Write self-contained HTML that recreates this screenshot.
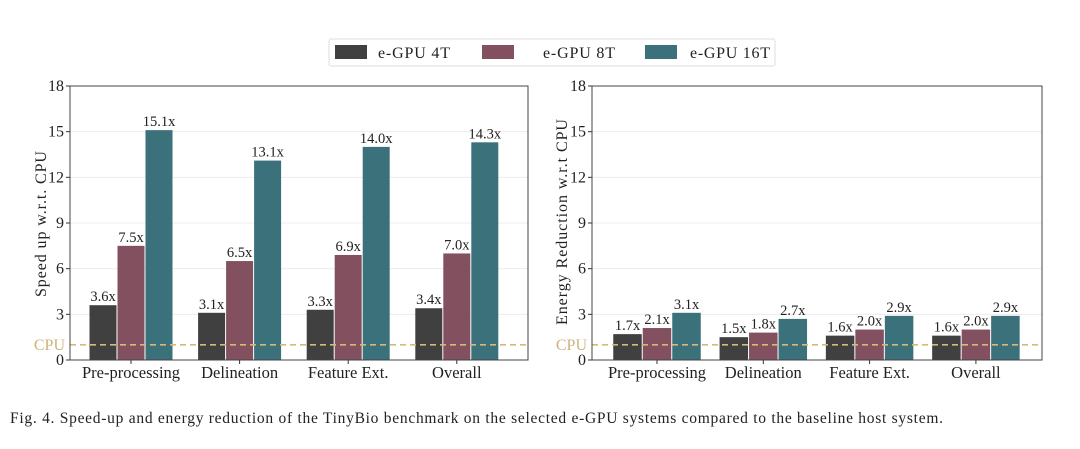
<!DOCTYPE html>
<html><head><meta charset="utf-8"><style>
body{margin:0;background:#fff;width:1080px;height:444px;overflow:hidden;font-family:"Liberation Serif",serif}
svg text{font-family:"Liberation Serif",serif;fill:#222}
</style></head><body>
<svg id="c" width="1080" height="444">
<g>
<rect x="329" y="39" width="446" height="27" fill="#fff" stroke="#ddd" rx="2"/>
<rect x="335" y="45" width="32" height="14" fill="#404040"/>
<text x="378" y="58" font-size="16" textLength="72">e-GPU 4T</text>
<rect x="482" y="45" width="32" height="14" fill="#83505f"/>
<text x="543" y="58" font-size="16" textLength="72">e-GPU 8T</text>
<rect x="645" y="45" width="32" height="14" fill="#3b717a"/>
<text x="690" y="58" font-size="16" textLength="80">e-GPU 16T</text>
</g>
<text x="10" y="423" font-size="15.5" textLength="933">Fig. 4.  Speed-up and energy reduction of the TinyBio benchmark on the selected e-GPU systems compared to the baseline host system.</text>
</svg>
<script>
const categories=["Pre-processing","Delineation","Feature Ext.","Overall"];
const seriesNames=["e-GPU 4T","e-GPU 8T","e-GPU 16T"];
const speed4T=[3.6,3.1,3.3,3.4];
const speed8T=[7.5,6.5,6.9,7.0];
const speed16T=[15.1,13.1,14.0,14.3];
const energy4T=[1.7,1.5,1.6,1.6];
const energy8T=[2.1,1.8,2.0,2.0];
const energy16T=[3.1,2.7,2.9,2.9];
const yTicks=[0,3,6,9,12,15,18];
const cpuBaseline=1;
const colors=["#404040","#83505f","#3b717a"];
const NS="http://www.w3.org/2000/svg";
const svg=document.getElementById('c');
function mk(tag,attrs,parent){const e=document.createElementNS(NS,tag);for(const k in attrs)e.setAttribute(k,attrs[k]);(parent||svg).appendChild(e);return e;}
function panel(cfg){
  const g=mk('g',{});
  
  
  const y=v=>cfg.bottom-(v/18)*(cfg.bottom-cfg.top);
  const xc=i=>cfg.c0+i*cfg.step;
  yTicks.forEach(t=>{
    if(t>0&&t<18){const gl=mk('line',{x1:cfg.left,x2:cfg.right,y1:y(t),y2:y(t),stroke:'#ececec','stroke-width':1},g);
    }
    mk('line',{x1:cfg.left-4,x2:cfg.left,y1:y(t),y2:y(t),stroke:'#333'},g);
    const tx=mk('text',{x:cfg.left-6,y:y(t)+5,'font-size':16,'text-anchor':'end'},g);tx.textContent=t;
    
    
  });
  cfg.series.forEach((arr,s)=>{
    arr.forEach((v,i)=>{
      const cx=xc(i)+(s-1)*cfg.bw;
      const r=mk('rect',{x:cx-cfg.bw/2+0.5,y:y(v),width:cfg.bw-1,height:y(0)-y(v),fill:colors[s]},g);
      
      
      const t=mk('text',{x:cx,y:y(v)-4,'font-size':14.5,'text-anchor':'middle'},g);t.textContent=v.toFixed(1)+'x';
      
      
    });
  });
  const cl=mk('line',{x1:cfg.left,x2:cfg.right,y1:y(cpuBaseline),y2:y(cpuBaseline),stroke:'#d6b97a','stroke-width':1.6,'stroke-dasharray':'6,4'},g);
  
  
  const ct=mk('text',{x:cfg.left-5,y:y(cpuBaseline)+5,'font-size':16,'text-anchor':'end',style:'fill:#cdb27a'},g);ct.textContent='CPU';
  
  
  categories.forEach((c,i)=>{
    mk('line',{x1:xc(i),x2:xc(i),y1:cfg.bottom,y2:cfg.bottom+4,stroke:'#333'},g);
    const t=mk('text',{x:xc(i),y:cfg.bottom+18,'font-size':16.5,'text-anchor':'middle'},g);t.textContent=c;
    
    
  });
  const f=mk('rect',{x:cfg.left,y:cfg.top,width:cfg.right-cfg.left,height:cfg.bottom-cfg.top,fill:'none',stroke:'#444','stroke-width':1},g);
  
  
  const yl=mk('text',{x:0,y:0,'font-size':16,'text-anchor':'middle',textLength:cfg.ylen,transform:`translate(${cfg.ylx},${cfg.ylc}) rotate(-90)`},g);yl.textContent=cfg.ylabel;
  
  
}
panel({name:'speedup-chart',left:70,right:528,top:86,bottom:360,c0:131,step:108.6,bw:28,ylabel:'Speed up w.r.t. CPU',ylx:46,ylc:224,ylen:146,series:[speed4T,speed8T,speed16T]});
panel({name:'energy-chart',left:592,right:1042,top:86,bottom:360,c0:657,step:106.3,bw:29.5,ylabel:'Energy Reduction w.r.t CPU',ylx:567,ylc:222,ylen:206,series:[energy4T,energy8T,energy16T]});
</script>
</body></html>
